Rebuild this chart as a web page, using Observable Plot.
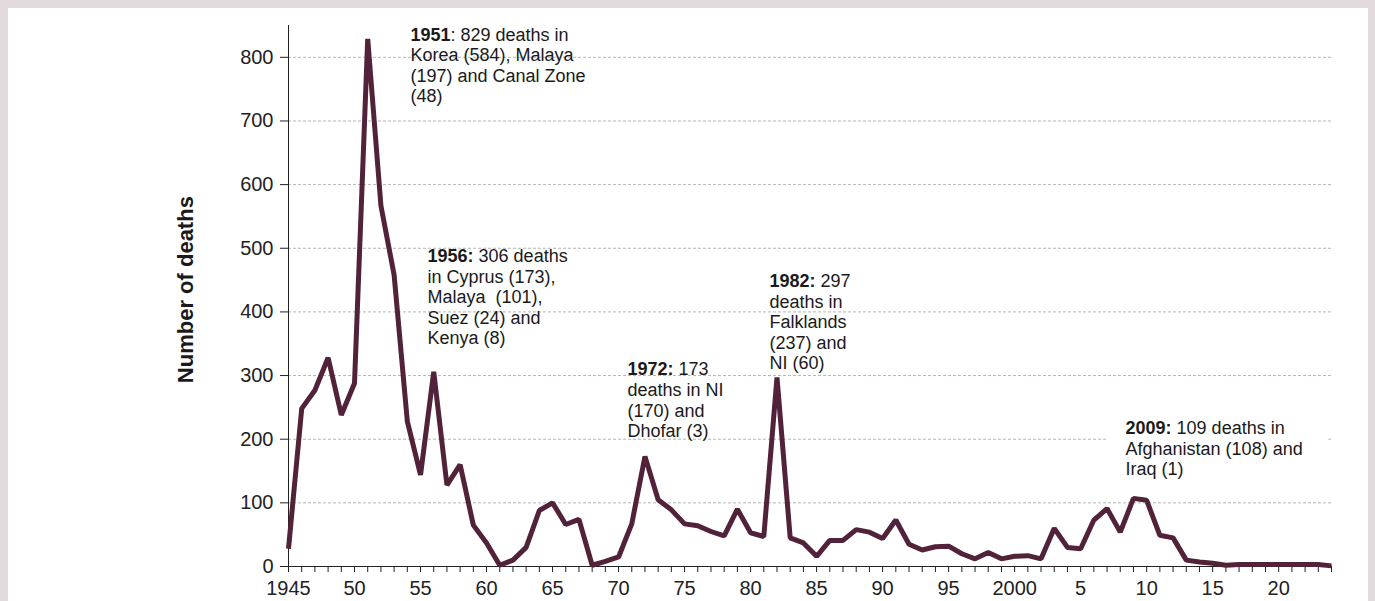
<!DOCTYPE html>
<html>
<head>
<meta charset="utf-8">
<script src="https://cdn.jsdelivr.net/npm/d3@7"></script>
<script src="https://cdn.jsdelivr.net/npm/@observablehq/plot@0.6"></script>
<style>
  html, body { margin: 0; padding: 0; background: #e1dadc; width: 1375px; height: 601px; overflow: hidden; }
  #panel { position: absolute; left: 8px; top: 8px; width: 1360px; height: 600px; background: #ffffff; }
  #chart { position: absolute; left: 0; top: 0; }
</style>
</head>
<body>
<div id="panel"></div>
<div id="chart"></div>
<script>
// ---- Data ----
const years = [
  1945,1946,1947,1948,1949,1950,1951,1952,1953,1954,1955,1956,1957,1958,1959,
  1960,1961,1962,1963,1964,1965,1966,1967,1968,1969,1970,1971,1972,1973,1974,
  1975,1976,1977,1978,1979,1980,1981,1982,1983,1984,1985,1986,1987,1988,1989,
  1990,1991,1992,1993,1994,1995,1996,1997,1998,1999,2000,2001,2002,2003,2004,
  2005,2006,2007,2008,2009,2010,2011,2012,2013,2014,2015,2016,2017,2018,2019,
  2020,2021,2022,2023,2024
];
const deaths = [
  28,248,277,328,238,288,829,567,458,228,144,306,128,160,65,
  37,2,10,30,88,100,66,74,2,8,15,67,173,105,89,
  67,64,55,48,90,53,47,297,45,37,16,41,41,58,54,
  44,73,35,26,31,32,20,12,22,12,16,17,12,60,30,
  28,73,91,54,107,104,49,45,10,7,5,2,3,3,3,
  3,3,3,3,1
];
const yTicks = [0,100,200,300,400,500,600,700,800];
const xLabelYears = [1945,1950,1955,1960,1965,1970,1975,1980,1985,1990,1995,2000,2005,2010,2015,2020];
const xLabels = ["1945","50","55","60","65","70","75","80","85","90","95","2000","5","10","15","20"];
const yTitle = "Number of deaths";

const annYears = [1951, 1956, 1972, 1982, 2009];
const annBold = ["1951", "1956:", "1972:", "1982:", "2009:"];
const annRest = [
  ": 829 deaths in\nKorea (584), Malaya\n(197) and Canal Zone\n(48)",
  " 306 deaths\nin Cyprus (173),\nMalaya  (101),\nSuez (24) and\nKenya (8)",
  " 173\ndeaths in NI\n(170) and\nDhofar (3)",
  " 297\ndeaths in\nFalklands\n(237) and\nNI (60)",
  " 109 deaths in\nAfghanistan (108) and\nIraq (1)"
];

// ---- Build ----
const series = years.map((y, i) => ({year: y, deaths: deaths[i]}));
const labelMap = new Map(xLabelYears.map((y, i) => [y, xLabels[i]]));
// layout anchors for the annotation blocks (data units)
const annPos = [
  {x: 1954.24, y: 849},
  {x: 1955.53, y: 501},
  {x: 1970.68, y: 323},
  {x: 1981.43, y: 462},
  {x: 2008.40, y: 231}
];
const annotations = annYears.map((yr, i) => ({
  x: annPos[i].x, y: annPos[i].y, text: annBold[i] + annRest[i]
}));
const boldSet = new Set(annBold);

const font = "'Liberation Sans', Arial, sans-serif";
const gridColor = "#b5b5b5";
const lineColor = "#512239";

const plot = Plot.plot({
  width: 1375,
  height: 601,
  marginLeft: 288,
  marginRight: 44,
  marginTop: 25,
  marginBottom: 35,
  style: {background: "transparent", fontFamily: font, color: "#222"},
  x: {domain: [1945, 2024]},
  y: {domain: [0, 850]},
  marks: [
    Plot.ruleY(yTicks.filter(d => d > 0), {stroke: gridColor, strokeDasharray: "3,2", strokeWidth: 1}),
    Plot.rect([{x1: 2007.05, x2: 2023.8, y1: 140, y2: 240}], {x1: "x1", x2: "x2", y1: "y1", y2: "y2", fill: "white"}),
    Plot.ruleX([1945], {y1: 0, y2: 850, stroke: "#222", strokeWidth: 1}),
    Plot.ruleY([0], {stroke: "#222", strokeWidth: 1}),
    Plot.axisY({ticks: yTicks, tickSize: 8, tickPadding: 7, fontSize: 20, label: null, stroke: "#222", fill: "#222"}),
    Plot.axisX({ticks: years, tickSize: 6, tickFormat: () => "", label: null, stroke: "#222"}),
    Plot.axisX({ticks: xLabelYears, tickSize: 0, tickPadding: 14, tickFormat: d => labelMap.get(d), fontSize: 20, label: null, fill: "#222"}),
    Plot.line(series, {x: "year", y: "deaths", stroke: lineColor, strokeWidth: 5, strokeLinejoin: "miter", strokeLinecap: "butt"}),
    Plot.text(annotations, {x: "x", y: "y", text: "text", textAnchor: "start", lineAnchor: "top", fontSize: 18, lineHeight: 1.14, fill: "#1a1a1a"}),
    Plot.text([yTitle], {frameAnchor: "left", y: 435, dx: -103, rotate: -90, textAnchor: "middle", text: d => d, fontSize: 22, fontWeight: "bold", fill: "#1a1a1a"})
  ]
});

// make the year prefix of each annotation bold
const ns = "http://www.w3.org/2000/svg";
plot.querySelectorAll("text").forEach(t => {
  const first = t.querySelector("tspan") || t;
  const s = first.textContent;
  for (const b of boldSet) {
    if (s.startsWith(b)) {
      first.textContent = "";
      const bt = document.createElementNS(ns, "tspan");
      bt.setAttribute("font-weight", "bold");
      bt.textContent = b;
      first.appendChild(bt);
      first.appendChild(document.createTextNode(s.slice(b.length)));
      break;
    }
  }
});

document.getElementById("chart").appendChild(plot);
</script>
</body>
</html>
